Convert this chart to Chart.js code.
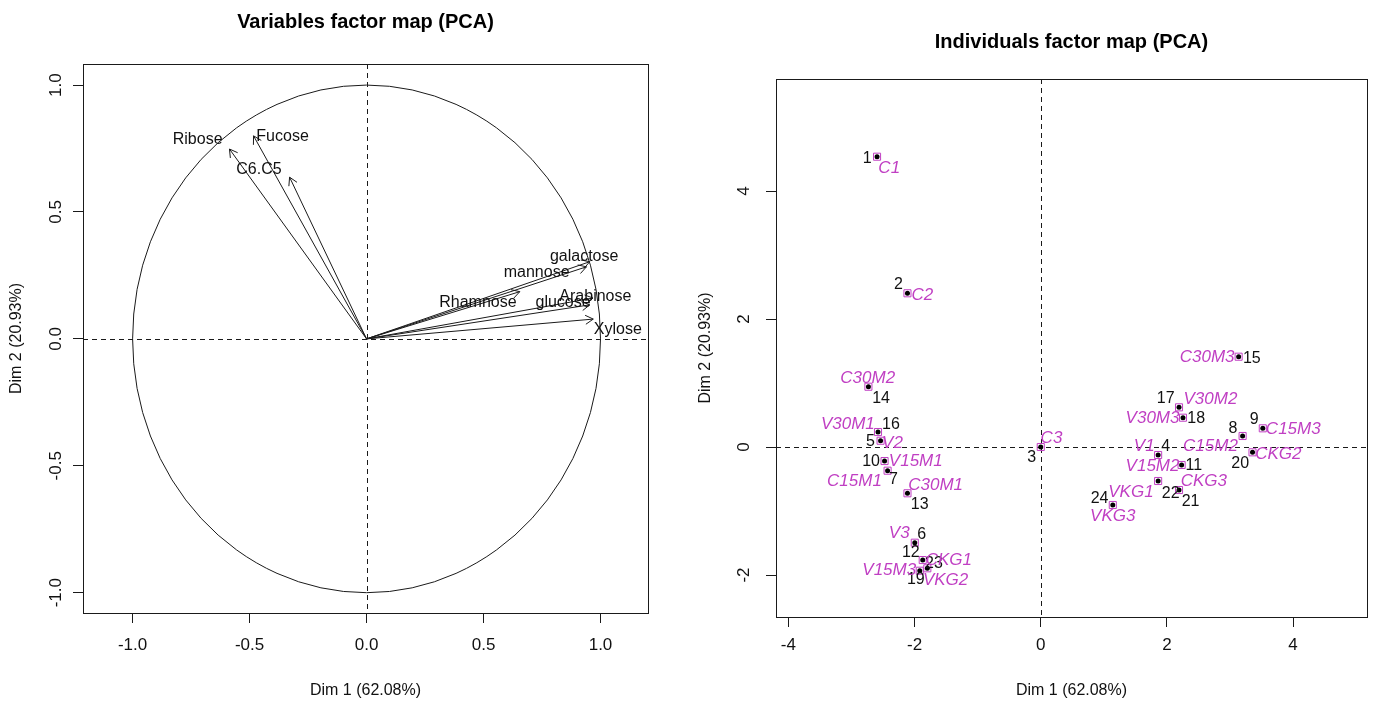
<!DOCTYPE html>
<html>
<head>
<meta charset="utf-8">
<script src="https://cdn.jsdelivr.net/npm/chart.js@4.4.1/dist/chart.umd.min.js"></script>
<style>
body{margin:0;background:#fff;overflow:hidden}
#wrap{position:relative;width:1373px;height:701px;background:#fff}
canvas{position:absolute;top:0}
#pcaVar{left:0}
#pcaInd{left:686px}
</style>
</head>
<body>
<div id="wrap">
<canvas id="pcaVar" width="686" height="701"></canvas>
<canvas id="pcaInd" width="687" height="701"></canvas>
</div>
<script>
/*************************** data: variables factor map ***************************/
const varNames  = ['Ribose', 'Fucose', 'C6.C5', 'galactose', 'mannose', 'Rhamnose', 'glucose', 'Arabinose', 'Xylose'];
const varDim1   = [-0.586, -0.483, -0.329, 0.954, 0.940, 0.655, 0.954, 0.968, 0.969];
const varDim2   = [ 0.748,  0.800,  0.637, 0.304, 0.284, 0.186, 0.134, 0.161, 0.078];
// where each name sits, in the same units
const varLabX   = [-0.722, -0.359, -0.460, 0.930, 0.727, 0.476, 0.840, 0.978, 1.074];
const varLabY   = [ 0.785,  0.796,  0.666, 0.324, 0.260, 0.142, 0.142, 0.166, 0.036];
const varTicks  = [-1, -0.5, 0, 0.5, 1];

/*************************** data: individuals factor map *************************/
const indIds    = ['1','2','3','4','5','6','7','8','9','10','11','12','13','14','15','16','17','18','19','20','21','22','23','24'];
const indNames  = ['C1','C2','C3','V1','V2','V3','C15M1','C15M2','C15M3','V15M1','V15M2','V15M3',
                   'C30M1','C30M2','C30M3','V30M1','V30M2','V30M3','CKG1','CKG2','CKG3','VKG1','VKG2','VKG3'];
const indDim1   = [-2.595,-2.113, 0.000, 1.861,-2.539,-1.997,-2.428, 3.200, 3.520,-2.476, 2.233,-1.871,
                   -2.113,-2.732, 3.137,-2.580, 2.192, 2.255,-1.918, 3.357, 2.192, 1.861,-1.798, 1.142];
const indDim2   = [ 4.536, 2.402, 0.000,-0.125, 0.098,-1.495,-0.370, 0.172, 0.292,-0.219,-0.281,-1.766,
                   -0.723, 0.942, 1.411, 0.234, 0.620, 0.458,-1.933,-0.083,-0.672,-0.531,-1.895,-0.906];
const idLabX    = [-2.753,-2.255,-0.145, 1.981,-2.701,-1.887,-2.334, 3.047, 3.383,-2.690, 2.428,-2.060,
                   -1.918,-2.532, 3.346,-2.375, 1.981, 2.465,-1.981, 3.162, 2.375, 2.060,-1.693, 0.932];
const idLabY    = [ 4.511, 2.531,-0.161, 0.005, 0.083,-1.375,-0.516, 0.292, 0.433,-0.230,-0.297,-1.652,
                   -0.906, 0.761, 1.386, 0.344, 0.750, 0.448,-2.078,-0.255,-0.855,-0.723,-1.817,-0.802];
const nameLabX  = [-2.402,-1.877, 0.170, 1.641,-2.350,-2.244,-2.953, 2.690, 4.003,-1.981, 1.772,-2.402,
                   -1.666,-2.743, 2.638,-3.058, 2.690, 1.772,-1.457, 3.767, 2.586, 1.430,-1.509, 1.142];
const nameLabY  = [ 4.355, 2.375, 0.136, 0.005, 0.058,-1.348,-0.542, 0.005, 0.281,-0.230,-0.297,-1.922,
                   -0.594, 1.073, 1.402, 0.359, 0.750, 0.448,-1.766,-0.109,-0.542,-0.708,-2.078,-1.089];
const indXTicks = [-4, -2, 0, 2, 4];
const indYTicks = [-2, 0, 2, 4];

/*************************** common stuff ***************************/
Chart.defaults.font.family = "'Liberation Sans', Arial, sans-serif";
Chart.defaults.color = '#111';
const INK = '#1a1a1a';
const PINK = '#c03fc3';

const fixTicks = (list) => (scale) => { scale.ticks = list.map(v => ({value: v})); };
const crisp = (v) => Math.round(v) + 0.5;

function axisX(min, max, list, fmt, height, pad) {
    return {
        type: 'linear', position: 'bottom', min: min, max: max,
        afterBuildTicks: fixTicks(list),
        afterFit: (s) => { s.height = height; },
        grid: {drawOnChartArea: false, drawTicks: true, tickLength: 10, tickColor: INK},
        border: {display: false},
        ticks: {autoSkip: false, padding: pad, font: {size: 17}, color: '#111', callback: fmt},
        title: {display: true, text: 'Dim 1 (62.08%)', font: {size: 16}, color: '#111', padding: {top: 0, bottom: 1}}
    };
}
function axisY(min, max, list, fmt, width, pad, titlePad) {
    return {
        type: 'linear', position: 'left', min: min, max: max,
        afterBuildTicks: fixTicks(list),
        afterFit: (s) => { s.width = width; },
        grid: {drawOnChartArea: false, drawTicks: true, tickLength: 10, tickColor: INK},
        border: {display: false},
        ticks: {autoSkip: false, padding: pad, minRotation: 90, maxRotation: 90, crossAlign: 'center',
                font: {size: 17}, color: '#111', callback: fmt},
        title: {display: true, text: 'Dim 2 (20.93%)', font: {size: 16}, color: '#111', padding: {top: titlePad, bottom: 0}}
    };
}

// box + dashed zero lines, the R look
function frameAndZero(chart) {
    const {ctx, chartArea: a, scales: {x, y}} = chart;
    const cx = crisp(x.getPixelForValue(0)), cy = crisp(y.getPixelForValue(0));
    ctx.save();
    ctx.strokeStyle = INK;
    ctx.lineWidth = 1;
    ctx.setLineDash([5, 4]);
    ctx.beginPath();
    ctx.moveTo(a.left, cy); ctx.lineTo(a.right, cy);
    ctx.moveTo(cx, a.top); ctx.lineTo(cx, a.bottom);
    ctx.stroke();
    ctx.setLineDash([]);
    ctx.strokeRect(crisp(a.left), crisp(a.top), Math.round(a.right - a.left), Math.round(a.bottom - a.top));
    ctx.restore();
}

/*************************** Variables factor map ***************************/
const varDecor = {
    id: 'varDecor',
    beforeDatasetsDraw(chart) {
        const {ctx, scales: {x, y}} = chart;
        frameAndZero(chart);
        // correlation circle
        const cx = x.getPixelForValue(0), cy = y.getPixelForValue(0);
        ctx.save();
        ctx.strokeStyle = INK;
        ctx.lineWidth = 1;
        ctx.beginPath();
        ctx.ellipse(cx, cy, x.getPixelForValue(1) - cx, cy - y.getPixelForValue(1), 0, 0, 2 * Math.PI);
        ctx.stroke();
        ctx.restore();
    },
    afterDatasetsDraw(chart) {
        const {ctx, scales: {x, y}} = chart;
        ctx.save();
        ctx.strokeStyle = INK;
        ctx.lineWidth = 1;
        chart.data.datasets.forEach((ds, i) => {
            const pts = chart.getDatasetMeta(i).data;
            const p0 = pts[0], p1 = pts[1];
            const ang = Math.atan2(p1.y - p0.y, p1.x - p0.x);
            const len = 9;
            ctx.beginPath();
            ctx.moveTo(p1.x - len * Math.cos(ang - Math.PI / 6), p1.y - len * Math.sin(ang - Math.PI / 6));
            ctx.lineTo(p1.x, p1.y);
            ctx.lineTo(p1.x - len * Math.cos(ang + Math.PI / 6), p1.y - len * Math.sin(ang + Math.PI / 6));
            ctx.stroke();
        });
        ctx.fillStyle = '#111';
        ctx.font = "16px 'Liberation Sans', Arial, sans-serif";
        ctx.textAlign = 'center';
        ctx.textBaseline = 'middle';
        varNames.forEach((n, i) => {
            ctx.fillText(n, x.getPixelForValue(varLabX[i]), y.getPixelForValue(varLabY[i]));
        });
        ctx.restore();
    }
};

new Chart(document.getElementById('pcaVar'), {
    type: 'scatter',
    data: {
        datasets: varNames.map((n, i) => ({
            label: n,
            data: [{x: 0, y: 0}, {x: varDim1[i], y: varDim2[i]}],
            showLine: true,
            borderColor: INK,
            borderWidth: 1,
            pointRadius: 0
        }))
    },
    options: {
        responsive: false,
        animation: false,
        layout: {padding: {left: 0, right: 38, top: 0, bottom: 0}},
        plugins: {
            legend: {display: false},
            tooltip: {enabled: false},
            title: {display: true, text: 'Variables factor map (PCA)', fullSize: false,
                    font: {size: 20, weight: 'bold'}, color: '#000', padding: {top: 10, bottom: 30}}
        },
        scales: {
            x: axisX(-1.212, 1.203, varTicks, v => v.toFixed(1), 88, 12),
            y: axisY(-1.08, 1.083, varTicks, v => v.toFixed(1), 83, 2, 7)
        }
    },
    plugins: [varDecor]
});

/*************************** Individuals factor map ***************************/
const indDecor = {
    id: 'indDecor',
    beforeDatasetsDraw(chart) {
        frameAndZero(chart);
    },
    afterDatasetsDraw(chart) {
        const {ctx, scales: {x, y}} = chart;
        ctx.save();
        ctx.textAlign = 'center';
        ctx.textBaseline = 'middle';
        ctx.fillStyle = '#111';
        ctx.font = "16px 'Liberation Sans', Arial, sans-serif";
        indIds.forEach((t, i) => {
            ctx.fillText(t, x.getPixelForValue(idLabX[i]), y.getPixelForValue(idLabY[i]));
        });
        ctx.fillStyle = PINK;
        ctx.font = "italic 17px 'Liberation Sans', Arial, sans-serif";
        indNames.forEach((t, i) => {
            ctx.fillText(t, x.getPixelForValue(nameLabX[i]), y.getPixelForValue(nameLabY[i]));
        });
        ctx.restore();
    }
};

const indPoints = indDim1.map((v, i) => ({x: v, y: indDim2[i]}));

new Chart(document.getElementById('pcaInd'), {
    type: 'scatter',
    data: {
        datasets: [
            {
                label: 'supplementary',
                data: indPoints,
                pointStyle: 'rect',
                pointRadius: 5,
                borderColor: PINK,
                borderWidth: 1,
                backgroundColor: 'rgba(0,0,0,0)'
            },
            {
                label: 'individuals',
                data: indPoints,
                pointStyle: 'circle',
                pointRadius: 2.5,
                borderWidth: 0,
                backgroundColor: '#000'
            }
        ]
    },
    options: {
        responsive: false,
        animation: false,
        layout: {padding: {left: 0, right: 2, top: 0, bottom: 0}},
        plugins: {
            legend: {display: false},
            tooltip: {enabled: false},
            title: {display: true, text: 'Individuals factor map (PCA)', fullSize: false,
                    font: {size: 20, weight: 'bold'}, color: '#000', padding: {top: 30, bottom: 25}}
        },
        scales: {
            x: axisX(-4.197, 5.172, indXTicks, v => String(v), 84, 8),
            y: axisY(-2.656, 5.75, indYTicks, v => String(v), 90, 14, 10)
        }
    },
    plugins: [indDecor]
});
</script>
</body>
</html>
